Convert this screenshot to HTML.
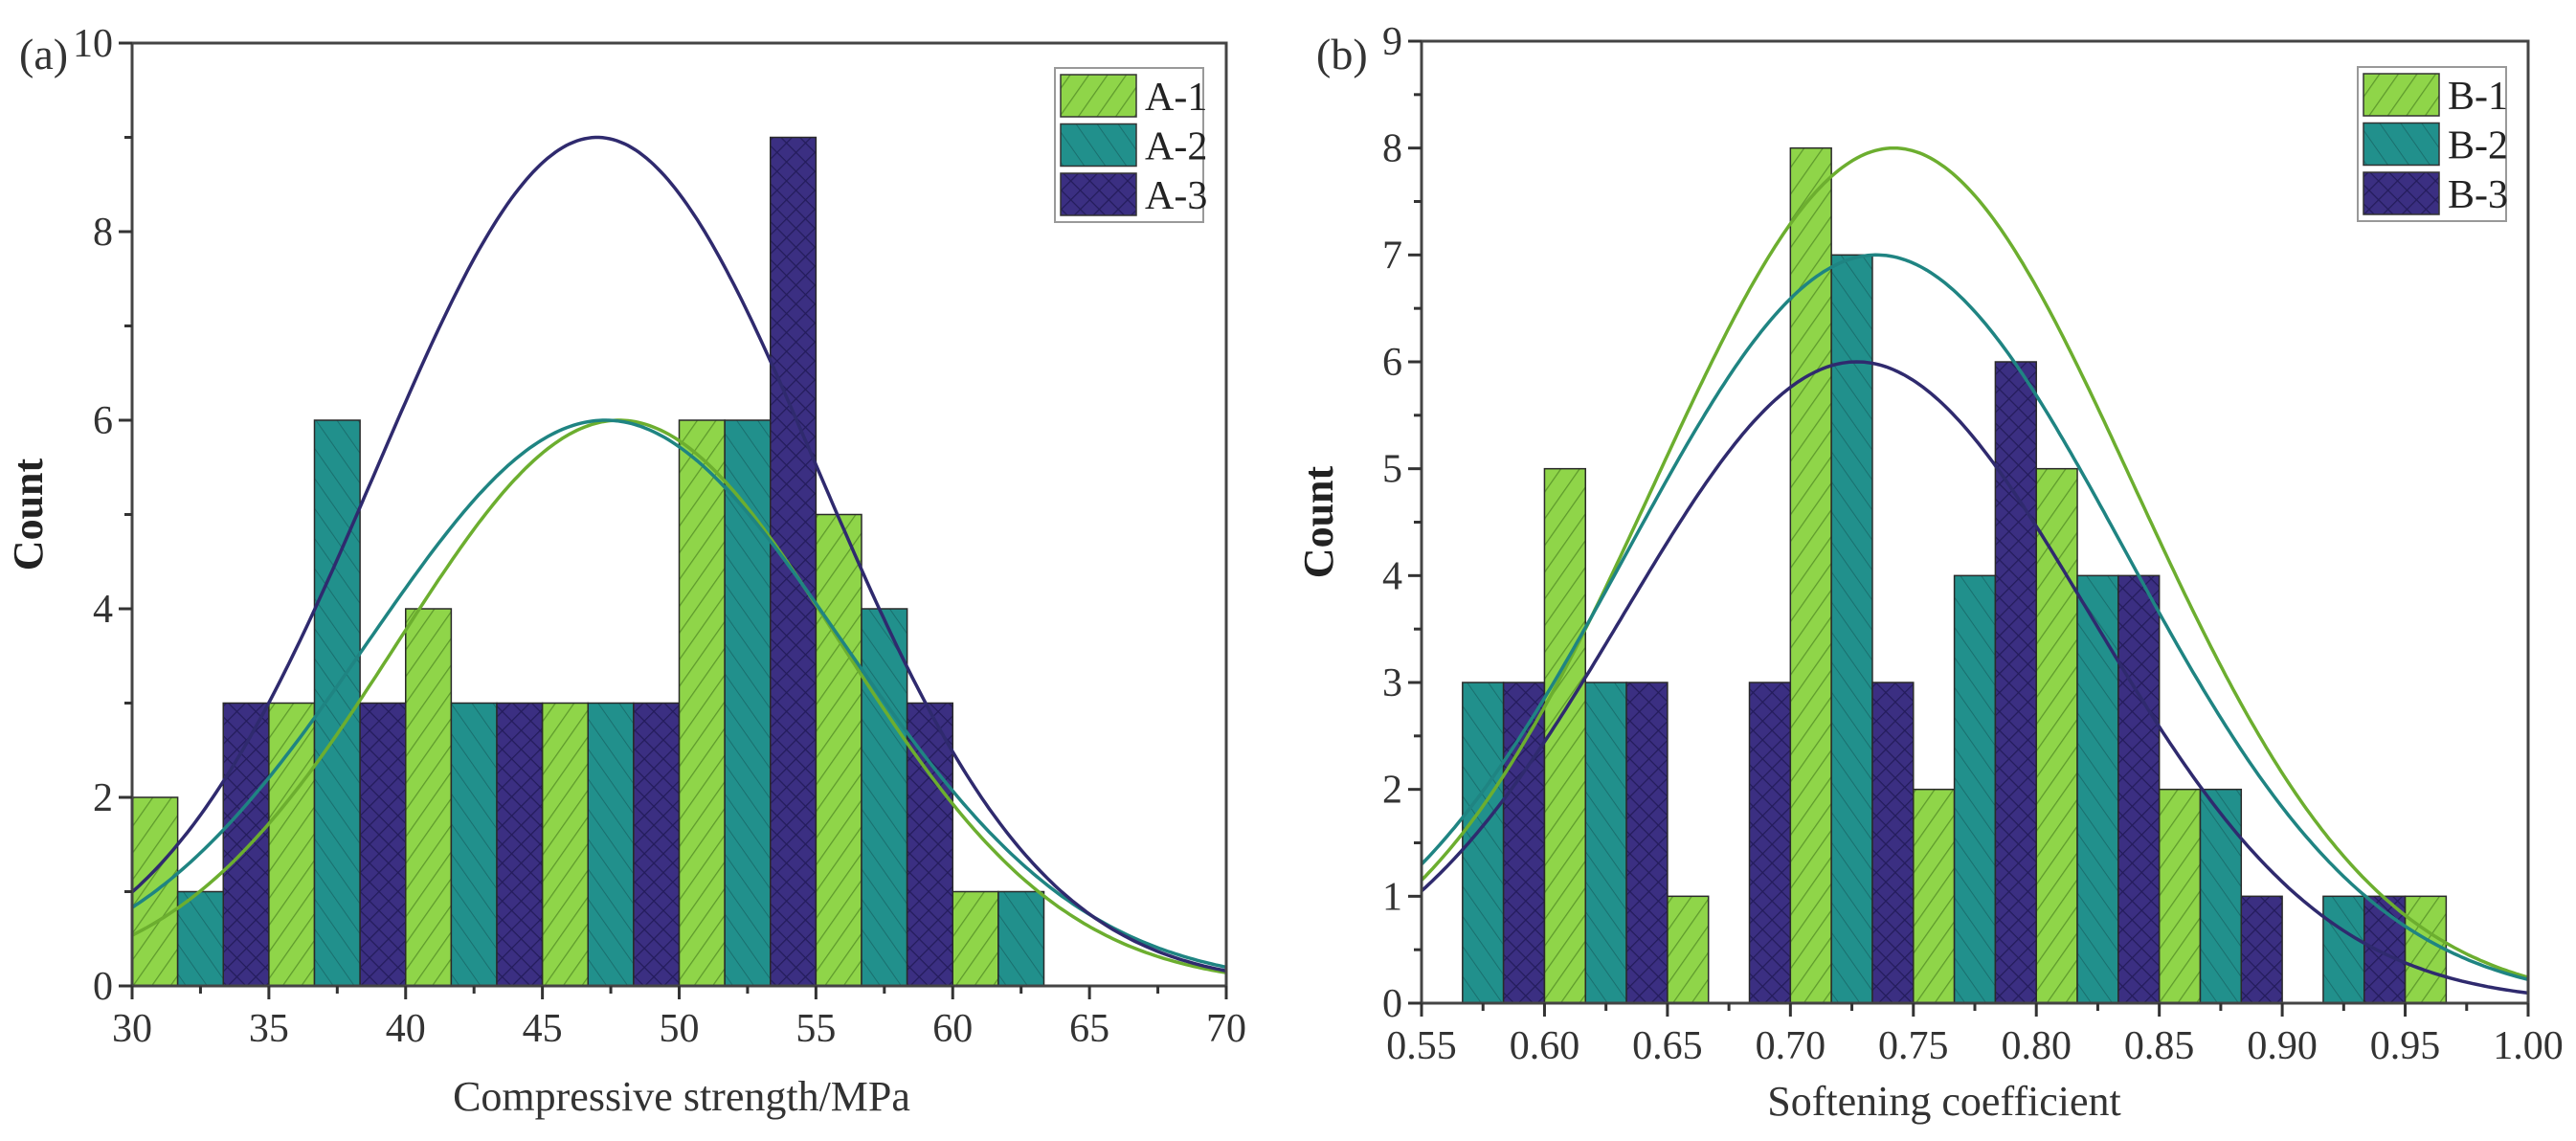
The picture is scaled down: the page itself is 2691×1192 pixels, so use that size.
<!DOCTYPE html>
<html><head><meta charset="utf-8"><style>
html,body{margin:0;padding:0;background:#fff;}
svg{display:block;font-family:"Liberation Serif",serif;}
</style></head><body>
<svg id="c" width="2691" height="1192" viewBox="0 0 2691 1192" xmlns="http://www.w3.org/2000/svg">
<defs>
<pattern id="pA" patternUnits="userSpaceOnUse" width="16" height="16" patternTransform="rotate(35)"><rect width="16" height="16" fill="#8fd549"/><line x1="0" y1="0" x2="0" y2="16" stroke="#5e9a2c" stroke-width="2.5"/></pattern>
<pattern id="pB" patternUnits="userSpaceOnUse" width="18" height="18" patternTransform="rotate(-35)"><rect width="18" height="18" fill="#21908c"/><line x1="0" y1="0" x2="0" y2="18" stroke="#1a6f6e" stroke-width="2"/></pattern>
<pattern id="pC" patternUnits="userSpaceOnUse" width="14" height="14" patternTransform="rotate(45)"><rect width="14" height="14" fill="#3b2f82"/><line x1="0" y1="0" x2="0" y2="14" stroke="#241c5c" stroke-width="2.5"/><line x1="0" y1="0" x2="14" y2="0" stroke="#241c5c" stroke-width="2.5"/></pattern>
</defs>
<g id="gA"></g>
<g id="gB"></g>
</svg>
<script>
// Panel (a) data
const aBinStarts = [30, 35, 40, 45, 50, 55, 60];
const aSeriesNames = ["A-1", "A-2", "A-3"];
const aA1 = [2, 3, 4, 3, 6, 5, 1];
const aA2 = [1, 6, 3, 3, 6, 4, 1];
const aA3 = [3, 3, 3, 3, 9, 3, 0];
const aFitMean = [47.8, 47.3, 47.0];
const aFitSd = [8.1, 8.7, 8.1];
const aFitPeak = [6, 6, 9];
const aXTicks = ["30","35","40","45","50","55","60","65","70"];
const aYTicks = ["0","2","4","6","8","10"];
// Panel (b) data
const bBinStarts = [0.55, 0.60, 0.65, 0.70, 0.75, 0.80, 0.85, 0.90, 0.95];
const bSeriesNames = ["B-1", "B-2", "B-3"];
const bB1 = [0, 5, 1, 8, 2, 5, 2, 0, 1];
const bB2 = [3, 3, 0, 7, 4, 4, 2, 1, 0];
const bB3 = [3, 3, 3, 3, 6, 4, 1, 1, 0];
const bFitMean = [0.742, 0.735, 0.727];
const bFitSd = [0.0975, 0.1008, 0.0948];
const bFitPeak = [8, 7, 6];
const bXTicks = ["0.55","0.60","0.65","0.70","0.75","0.80","0.85","0.90","0.95","1.00"];
const bYTicks = ["0","1","2","3","4","5","6","7","8","9"];

const NS = "http://www.w3.org/2000/svg";
const fills = ["url(#pA)","url(#pB)","url(#pC)"];
const swatchFills = fills;
const curveColors = ["#6cae2f","#1f8482","#2f2a6e"];
function mk(parent, tag, attrs, text){
  const e = document.createElementNS(NS, tag);
  for (const k in attrs) e.setAttribute(k, attrs[k]);
  if (text !== undefined) e.textContent = text;
  parent.appendChild(e);
  return e;
}
function drawPanel(g, cfg){
  const {x0,x1,y0,y1,xmin,xmax,ymax,binW,bins,series,names,means,sds,peaks,xt,yt,yStep,xStep,xTitle,label,legend,titleX,titleY,countX} = cfg;
  const X = v => x0 + (v - xmin) / (xmax - xmin) * (x1 - x0);
  const Y = v => y0 - v / ymax * (y0 - y1);
  // bars
  bins.forEach((b, i) => {
    series.forEach((s, j) => {
      if (s[i] <= 0) return;
      const xa = X(b + j * binW / 3), xb = X(b + (j + 1) * binW / 3);
      const r = mk(g, "rect", {x: xa, y: Y(s[i]), width: xb - xa, height: Y(0) - Y(s[i]), fill: fills[j], stroke: "#2a2a2a", "stroke-width": 1.5});
      
      
    });
  });
  // curves
  for (let j = 0; j < 3; j++){
    let d = "";
    for (let k = 0; k <= 300; k++){
      const v = xmin + (xmax - xmin) * k / 300;
      const yv = peaks[j] * Math.exp(-Math.pow(v - means[j], 2) / (2 * sds[j] * sds[j]));
      d += (k ? "L" : "M") + X(v).toFixed(1) + "," + Y(yv).toFixed(1);
    }
    const p = mk(g, "path", {d: d, fill: "none", stroke: curveColors[j], "stroke-width": 3.5});
    
    
  }
  // frame
  const fr = mk(g, "rect", {x: x0, y: y1, width: x1 - x0, height: y0 - y1, fill: "none", stroke: "#444", "stroke-width": 3});
  
  
  // x ticks
  xt.forEach((t, i) => {
    const v = xmin + i * xStep;
    mk(g, "line", {x1: X(v), y1: y0, x2: X(v), y2: y0 + 14, stroke: "#333", "stroke-width": 3});
    if (i < xt.length - 1){ const vm = v + xStep / 2; mk(g, "line", {x1: X(vm), y1: y0, x2: X(vm), y2: y0 + 8, stroke: "#333", "stroke-width": 3}); }
    const tx = mk(g, "text", {x: X(v), y: y0 + 58, "font-size": 42, "text-anchor": "middle", fill: "#333"}, t);
    
    
  });
  yt.forEach((t, i) => {
    const v = i * yStep;
    mk(g, "line", {x1: x0 - 14, y1: Y(v), x2: x0, y2: Y(v), stroke: "#333", "stroke-width": 3});
    if (i < yt.length - 1){ const vm = v + yStep / 2; mk(g, "line", {x1: x0 - 8, y1: Y(vm), x2: x0, y2: Y(vm), stroke: "#333", "stroke-width": 3}); }
    const tx = mk(g, "text", {x: x0 - 20, y: Y(v) + 14, "font-size": 42, "text-anchor": "end", fill: "#333"}, t);
    
    
  });
  const xtl = mk(g, "text", {x: titleX, y: titleY, "font-size": 44, "text-anchor": "middle", fill: "#333"}, xTitle);
  
  
  const ytl = mk(g, "text", {x: 0, y: 0, "font-size": 44, "font-weight": "bold", "text-anchor": "middle", fill: "#222", transform: "translate(" + countX + "," + ((y0 + y1) / 2) + ") rotate(-90)"}, "Count");
  
  
  const pl = mk(g, "text", {x: label[0], y: label[1], "font-size": 46, fill: "#333"}, label[2]);
  
  
  // legend
  const lg = mk(g, "g", {});
  
  
  mk(lg, "rect", {x: legend[0], y: legend[1], width: 155, height: 161, fill: "#fff", stroke: "#999", "stroke-width": 2});
  names.forEach((n, j) => {
    const e = mk(lg, "g", {});
    
    
    mk(e, "rect", {x: legend[0] + 6, y: legend[1] + 7 + j * 51.5, width: 79, height: 44, fill: swatchFills[j], stroke: "#333", "stroke-width": 1.5});
    mk(e, "text", {x: legend[0] + 94, y: legend[1] + 44 + j * 51.5, "font-size": 42, fill: "#222"}, n);
  });
}
drawPanel(document.getElementById("gA"), {
  x0: 138, x1: 1281, y0: 1030, y1: 45, xmin: 30, xmax: 70, ymax: 10, binW: 5,
  bins: aBinStarts, series: [aA1, aA2, aA3], names: aSeriesNames,
  means: aFitMean, sds: aFitSd, peaks: aFitPeak, xt: aXTicks, yt: aYTicks, yStep: 2, xStep: 5,
  xTitle: "Compressive strength/MPa", titleX: 712, titleY: 1160, countX: 44,
  label: [20, 72, "(a)"], legend: [1102, 71]
});
drawPanel(document.getElementById("gB"), {
  x0: 1485, x1: 2641, y0: 1048, y1: 43, xmin: 0.55, xmax: 1.0, ymax: 9, binW: 0.05,
  bins: bBinStarts, series: [bB1, bB2, bB3], names: bSeriesNames,
  means: bFitMean, sds: bFitSd, peaks: bFitPeak, xt: bXTicks, yt: bYTicks, yStep: 1, xStep: 0.05,
  xTitle: "Softening coefficient", titleX: 2031, titleY: 1165, countX: 1392,
  label: [1375, 72, "(b)"], legend: [2463, 70]
});
</script>
</body></html>
